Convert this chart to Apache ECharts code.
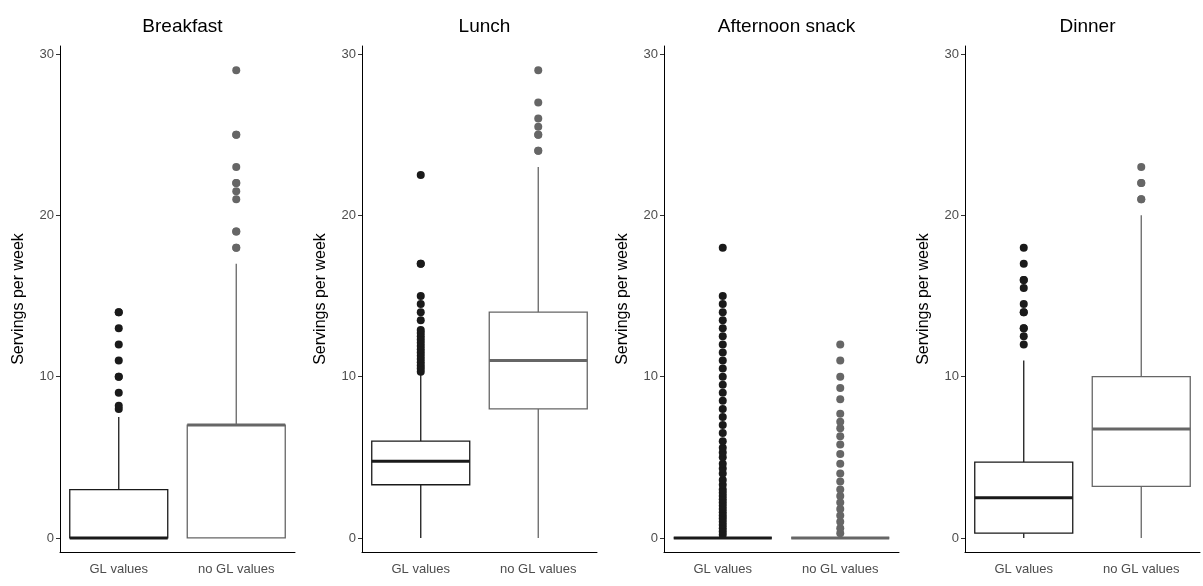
<!DOCTYPE html>
<html><head><meta charset="utf-8">
<script src="https://cdn.jsdelivr.net/npm/echarts@6/dist/echarts.min.js"></script>
<style>html,body{margin:0;padding:0;background:#fff}#c{width:1203px;height:586px}</style>
</head><body><div id="c"></div>
<script>
const panels = ["Breakfast","Lunch","Afternoon snack","Dinner"];
const categories = ["GL values","no GL values"];
const yTicks = [0,10,20,30];
// [low whisker, Q1, median, Q3, high whisker] for GL and no GL
const boxGL   = [[0,0,0,3,7.5],[0,3.3,4.75,6,10.2],[0,0,0,0,0],[0,0.3,2.5,4.7,11]];
const boxNoGL = [[0,0,7,7,17],[0,8,11,14,23],[0,0,0,0,0],[0,3.2,6.75,10,20]];
const outGL = [
  [8,8.2,9,10,10,11,12,13,14,14],
  [10.3,10.5,10.7,10.9,11.1,11.3,11.5,11.7,11.9,12.1,12.3,12.5,12.7,12.9,13.5,14,14.5,15,17,17,22.5],
  [0.2,0.4,0.6,0.8,1,1.2,1.4,1.6,1.8,2,2.2,2.4,2.6,2.8,3,3.3,3.6,4,4.3,4.6,5,5.3,5.6,6,6.5,7,7.5,8,8.5,9,9.5,10,10.5,11,11.5,12,12.5,13,13.5,14,14.5,15,18],
  [12,12.5,13,13,14,14,14.5,15.5,16,16,17,18]
];
const outNoGL = [
  [18,18,19,19,21,21.5,22,22,23,25,25,29],
  [24,24,25,25,25.5,26,27,29],
  [0.3,0.6,1,1.4,1.8,2.2,2.6,3,3.5,4,4.6,5.2,5.8,6.3,6.8,7.2,7.7,8.6,9.3,10,11,12],
  [21,21,22,22,23]
];
const colors = ['#1a1a1a','#666666'];
const lefts = [60,362,664,965];
const width = 235;
const chart = echarts.init(document.getElementById('c'));
const grid=[],xAxis=[],yAxis=[],series=[],title=[];
panels.forEach((p,i)=>{
  grid.push({left:lefts[i],width:width,top:46,bottom:34});
  title.push({text:p,left:lefts[i]+width/2,top:12,textAlign:'center',textStyle:{fontSize:19,fontWeight:'normal',color:'#000',fontFamily:'Liberation Sans'}});
  xAxis.push({type:'category',gridIndex:i,data:categories,boundaryGap:true,
    axisLine:{onZero:false,lineStyle:{color:'#000',width:1}},axisTick:{alignWithLabel:true,length:4,lineStyle:{color:'#333'}},
    axisLabel:{color:'#4d4d4d',fontSize:13,margin:11,fontFamily:'Liberation Sans'}});
  yAxis.push({type:'value',gridIndex:i,min:-0.87,max:30.5,name:'Servings per week',nameLocation:'middle',nameGap:33,
    nameTextStyle:{fontSize:16,color:'#000',fontFamily:'Liberation Sans'},
    axisLine:{show:true,lineStyle:{color:'#000'}},axisTick:{show:true,length:4,customValues:yTicks,lineStyle:{color:'#333'}},splitLine:{show:false},
    axisLabel:{customValues:yTicks,color:'#4d4d4d',fontSize:13,margin:6,fontFamily:'Liberation Sans'}});
  series.push({type:'scatter',xAxisIndex:i,yAxisIndex:i,symbolSize:8,
    data:outGL[i].map(v=>[0,v]).concat(outNoGL[i].map(v=>({value:[1,v],itemStyle:{color:colors[1]}}))),
    itemStyle:{color:colors[0],opacity:1},z:1});
  series.push({type:'custom',xAxisIndex:i,yAxisIndex:i,z:5,
    data:[[0].concat(boxGL[i]),[1].concat(boxNoGL[i])],
    renderItem:(params,api)=>{
      const x=api.value(0), c=colors[params.dataIndex], hw=49;
      const lo=api.coord([x,api.value(1)]), q1=api.coord([x,api.value(2)]), md=api.coord([x,api.value(3)]),
            q3=api.coord([x,api.value(4)]), hi=api.coord([x,api.value(5)]);
      const cx=lo[0];
      return {type:'group',children:[
        {type:'line',shape:{x1:cx,y1:lo[1],x2:cx,y2:q1[1]},style:{stroke:c,lineWidth:1.3}},
        {type:'line',shape:{x1:cx,y1:q3[1],x2:cx,y2:hi[1]},style:{stroke:c,lineWidth:1.3}},
        {type:'rect',shape:{x:cx-hw,y:q3[1],width:2*hw,height:q1[1]-q3[1]},style:{fill:'#fff',stroke:c,lineWidth:1.3}},
        {type:'line',shape:{x1:cx-hw,y1:md[1],x2:cx+hw,y2:md[1]},style:{stroke:c,lineWidth:3}}
      ]};
    }});
});
chart.setOption({animation:false,title,grid,xAxis,yAxis,series});
</script></body></html>
